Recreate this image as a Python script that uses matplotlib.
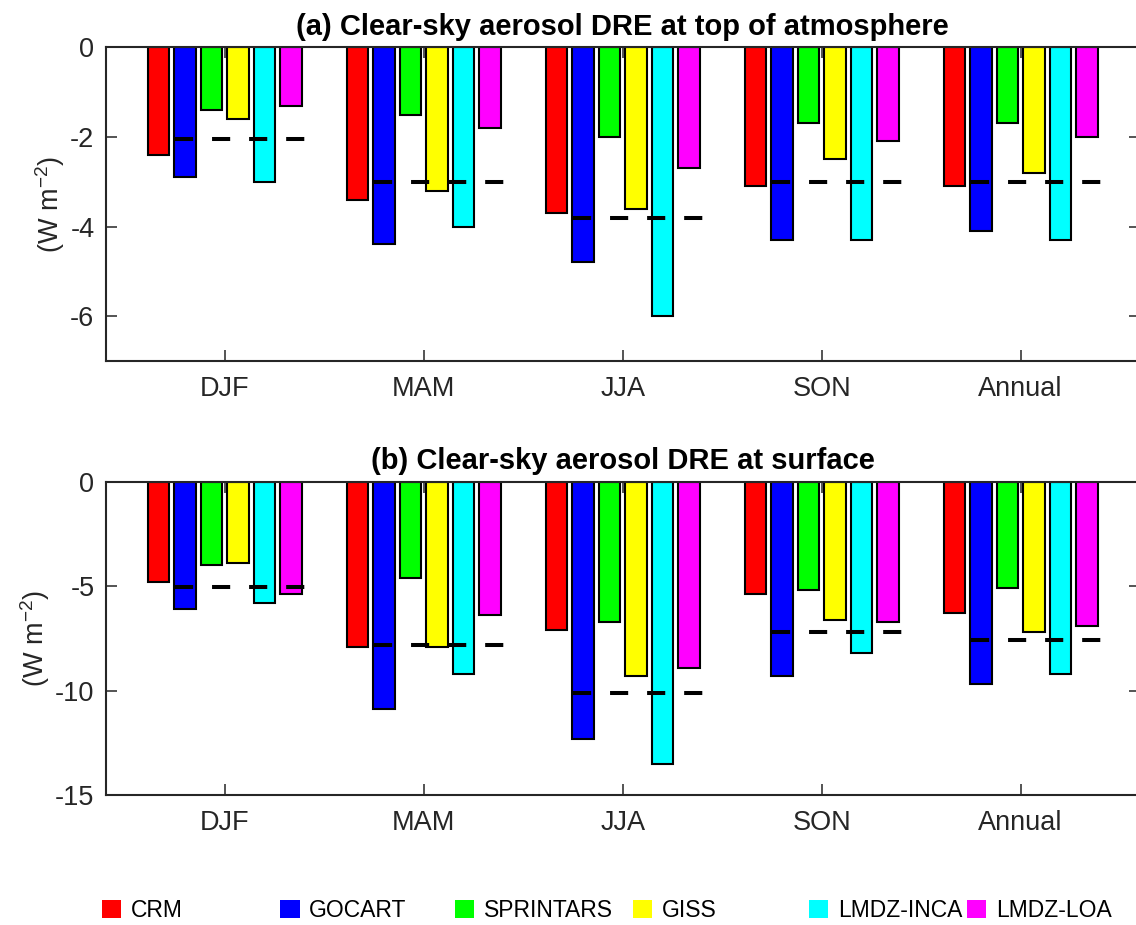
import matplotlib
matplotlib.use("Agg")
import matplotlib.pyplot as plt
import matplotlib.patches as mpatches
import numpy as np

plt.rcParams["font.family"] = ["Liberation Sans", "DejaVu Sans"]
plt.rcParams["axes.unicode_minus"] = False

# ---- data ----
seasons = ["DJF", "MAM", "JJA", "SON", "Annual"]
models = ["CRM", "GOCART", "SPRINTARS", "GISS", "LMDZ-INCA", "LMDZ-LOA"]
model_colors = ["#ff0000", "#0000ff", "#00ff00", "#ffff00", "#00ffff", "#ff00ff"]

# top of atmosphere, per model, per season
toa_crm = [-2.4, -3.4, -3.7, -3.1, -3.1]
toa_gocart = [-2.9, -4.4, -4.8, -4.3, -4.1]
toa_sprintars = [-1.4, -1.5, -2.0, -1.7, -1.7]
toa_giss = [-1.6, -3.2, -3.6, -2.5, -2.8]
toa_inca = [-3.0, -4.0, -6.0, -4.3, -4.3]
toa_loa = [-1.3, -1.8, -2.7, -2.1, -2.0]
toa_ref = [-2.04, -3.0, -3.81, -3.0, -3.0]

# surface
sfc_crm = [-4.8, -7.9, -7.1, -5.4, -6.3]
sfc_gocart = [-6.1, -10.9, -12.3, -9.3, -9.7]
sfc_sprintars = [-4.0, -4.6, -6.7, -5.2, -5.1]
sfc_giss = [-3.9, -7.9, -9.3, -6.6, -7.2]
sfc_inca = [-5.8, -9.2, -13.5, -8.2, -9.2]
sfc_loa = [-5.4, -6.4, -8.9, -6.7, -6.9]
sfc_ref = [-5.04, -7.8, -10.14, -7.2, -7.6]

toa_models = [toa_crm, toa_gocart, toa_sprintars, toa_giss, toa_inca, toa_loa]
sfc_models = [sfc_crm, sfc_gocart, sfc_sprintars, sfc_giss, sfc_inca, sfc_loa]

TICK_COLOR = "#262626"


def draw_panel(ax, series, ref, title, ylim, yticks):
    x = np.arange(1, len(seasons) + 1)
    step = 0.1333
    width = 0.108
    for i, (vals, col) in enumerate(zip(series, model_colors)):
        ax.bar(x + (i - 2.5) * step, vals, width=width, color=col,
               edgecolor="black", linewidth=1.5, zorder=2)

    # dashed reference line across each group
    for xi, r in zip(x, ref):
        ax.plot([xi - 0.251, xi + 0.405], [r, r], color="black", linewidth=2.9,
                dashes=(4.5, 4.7), dash_capstyle="butt", zorder=3)

    ax.set_xlim(0.4, 5.6)
    ax.set_ylim(*ylim)
    ax.set_yticks(yticks)
    ax.set_xticks(x)
    ax.set_xticklabels(seasons)
    ax.tick_params(direction="in", length=8, width=1.1, color=TICK_COLOR,
                   labelsize=19.5, labelcolor="#262626", top=True, right=True)
    ax.tick_params(axis="x", pad=11)
    ax.tick_params(axis="y", pad=8)
    for side in ["left", "bottom", "top"]:
        ax.spines[side].set_color(TICK_COLOR)
        ax.spines[side].set_linewidth(1.5)
    ax.spines["right"].set_visible(False)
    ax.set_ylabel("(W m$^{\\mathregular{-2}}$)", fontsize=19.5, color="#262626", labelpad=2)
    ax.set_title(title, fontsize=21, fontweight="bold", x=0.5, pad=9)


fig = plt.figure(figsize=(11.36, 9.25), dpi=100)
ax1 = fig.add_axes([0.0929, 0.6097, 0.9106, 0.3392])
ax2 = fig.add_axes([0.0929, 0.1405, 0.9106, 0.3388])

draw_panel(ax1, toa_models, toa_ref, "(a) Clear-sky aerosol DRE at top of atmosphere",
           (-7, 0), [-6, -4, -2, 0])
draw_panel(ax2, sfc_models, sfc_ref, "(b) Clear-sky aerosol DRE at surface",
           (-15, 0), [-15, -10, -5, 0])

# legend entries sit along the bottom, one small legend per model
legend_x = [0.0898, 0.2465, 0.4005, 0.5572, 0.7121, 0.8512]
for name, col, lx in zip(models, model_colors, legend_x):
    handle = mpatches.Patch(facecolor=col, edgecolor="none")
    fig.legend([handle], [name], loc="center left", bbox_to_anchor=(lx, 0.016),
               frameon=False, fontsize=16.5, handlelength=0.85, handleheight=0.85,
               handletextpad=0.42, borderpad=0, borderaxespad=0)

fig.savefig("out.png", dpi=100)
